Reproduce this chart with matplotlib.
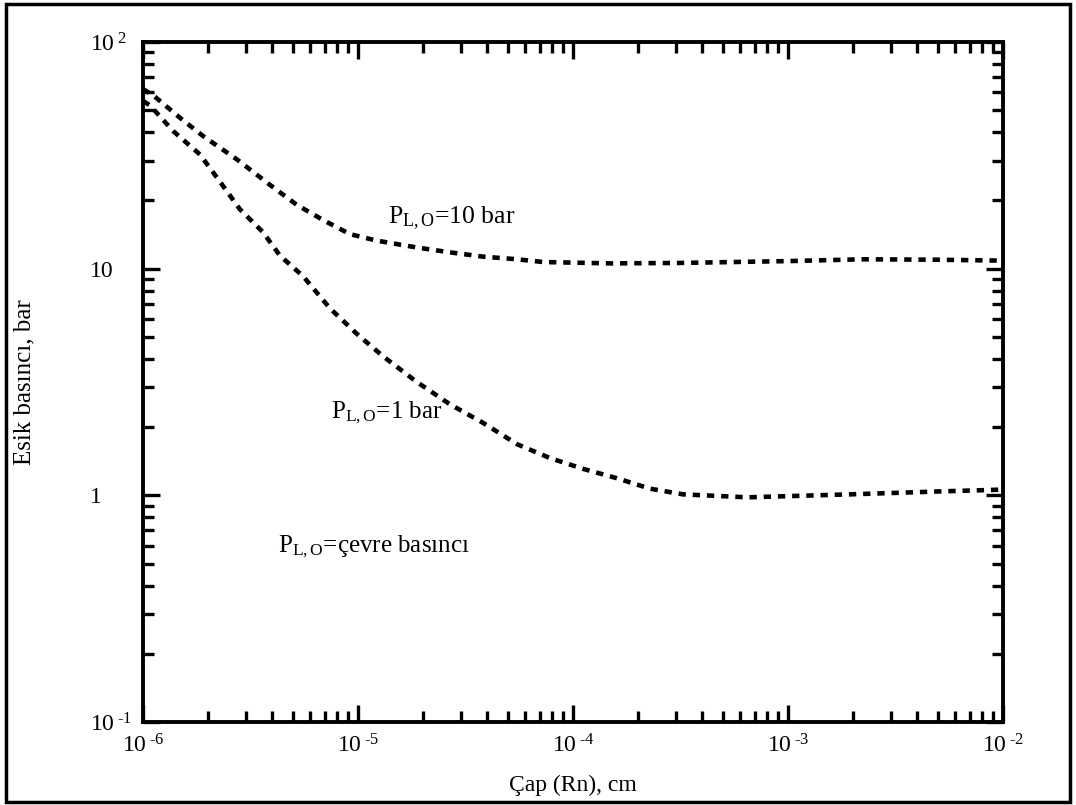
import matplotlib
matplotlib.use("Agg")
import matplotlib.pyplot as plt
from matplotlib.patches import Rectangle
from matplotlib.ticker import LogLocator, NullFormatter, FixedLocator, FixedFormatter

plt.rcParams['font.family'] = ['Liberation Serif', 'DejaVu Serif']
plt.rcParams['mathtext.fontset'] = 'custom'
plt.rcParams['mathtext.rm'] = 'Liberation Serif'
plt.rcParams['mathtext.it'] = 'Liberation Serif:italic'

# ---- data ----
x_10bar = [1e-6, 1.12e-6, 1.49e-6, 1.90e-6, 2.74e-6, 3.90e-6, 5.20e-6, 6.87e-6, 9.18e-6,
           1.22e-5, 1.88e-5, 2.68e-5, 3.81e-5, 5.50e-5, 7.24e-5, 1.5e-4, 3.15e-4,
           1.0e-3, 2.23e-3, 5.0e-3, 1.0e-2]
y_10bar = [62, 58.0, 46.2, 38.5, 30.3, 23.4, 19.1, 16.4, 14.2,
           13.3, 12.4, 11.8, 11.3, 11.0, 10.7, 10.55, 10.6,
           10.8, 11.0, 10.95, 10.85]

x_1bar = [1e-6, 1.08e-6, 1.38e-6, 1.84e-6, 2.28e-6, 2.82e-6, 3.61e-6, 4.34e-6, 5.55e-6,
          7.41e-6, 9.89e-6, 1.31e-5, 1.88e-5, 2.68e-5, 3.81e-5, 5.50e-5, 7.82e-5,
          1.11e-4, 1.60e-4, 2.28e-4, 3.25e-4, 6.46e-4, 1.94e-3, 5.0e-3, 1.0e-2]
y_1bar = [55, 52.4, 40.5, 31.9, 24.2, 18.3, 14.5, 11.4, 9.27,
          6.68, 5.15, 4.10, 3.16, 2.52, 2.09, 1.68, 1.46,
          1.31, 1.19, 1.07, 1.01, 0.98, 1.01, 1.04, 1.06]

x_ticks = [1e-6, 1e-5, 1e-4, 1e-3, 1e-2]
x_tick_labels = [r'10$^{\;\text{-6}}$', r'10$^{\;\text{-5}}$', r'10$^{\;\text{-4}}$',
                 r'10$^{\;\text{-3}}$', r'10$^{\;\text{-2}}$']
y_ticks = [0.1, 1, 10, 100]
y_tick_labels = [r'10$^{\;\text{-1}}$', '1', '10', r'10$^{\;2}$']

labels = [r'P$_{\mathrm{L,O}}$=10 bar', r'P$_{\mathrm{L,O}}$=1 bar', r'P$_{\mathrm{L,O}}$=çevre basıncı']
x_label = 'Çap (Rn), cm'
y_label = 'Esik basıncı, bar'

# ---- figure ----
W, H = 1076, 805
fig = plt.figure(figsize=(W / 100, H / 100), dpi=100)
fig.patch.set_facecolor('white')
fig.patches.append(Rectangle((6 / W, 3 / H), 1064 / W, 798 / H, transform=fig.transFigure,
                             fill=False, edgecolor='black', linewidth=2.5))

ax = fig.add_axes([143 / W, 1 - 722 / H, 860 / W, 680 / H])
ax.set_xscale('log')
ax.set_yscale('log')
ax.set_xlim(1e-6, 1e-2)
ax.set_ylim(0.1, 100)

ls = (0, (1.6, 1.5))
ax.plot(x_10bar, y_10bar, color='black', lw=3.3, linestyle=ls)
ax.plot(x_1bar, y_1bar, color='black', lw=3.3, linestyle=ls)

for s in ax.spines.values():
    s.set_linewidth(2.8)

ax.xaxis.set_major_locator(FixedLocator(x_ticks))
ax.xaxis.set_major_formatter(FixedFormatter(x_tick_labels))
ax.yaxis.set_major_locator(FixedLocator(y_ticks))
ax.yaxis.set_major_formatter(FixedFormatter(y_tick_labels))
ax.xaxis.set_minor_locator(LogLocator(base=10, subs=range(2, 10)))
ax.yaxis.set_minor_locator(LogLocator(base=10, subs=range(2, 10)))
ax.xaxis.set_minor_formatter(NullFormatter())
ax.yaxis.set_minor_formatter(NullFormatter())

ax.tick_params(which='both', direction='in', top=True, right=True, width=2.4, colors='black')
ax.tick_params(which='major', length=12, labelsize=17)
ax.tick_params(which='minor', length=8)
ax.tick_params(axis='x', which='major', pad=9)
ax.tick_params(axis='y', which='major', pad=38)
for t in ax.get_yticklabels():
    t.set_horizontalalignment('left')

ax.set_xlabel(x_label, fontsize=17, labelpad=12)
ax.set_ylabel(y_label, fontsize=18, labelpad=14)
ax.yaxis.set_label_coords(-(143 - 35) / 860, 0.5)

ax.text(0.285, 0.741, labels[0], transform=ax.transAxes, fontsize=18.5, ha='left', va='center')
ax.text(0.219, 0.455, labels[1], transform=ax.transAxes, fontsize=18, ha='left', va='center')
ax.text(0.157, 0.257, labels[2], transform=ax.transAxes, fontsize=18, ha='left', va='center')

fig.savefig('out.png', dpi=100, facecolor='white')
